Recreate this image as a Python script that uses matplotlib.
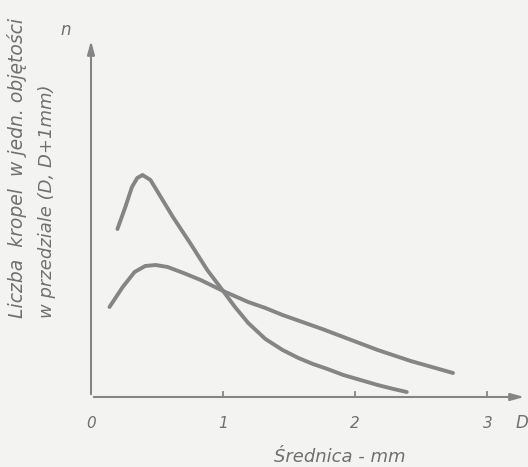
import numpy as np
import matplotlib
matplotlib.use("Agg")
import matplotlib.pyplot as plt

# values (x: diameter in mm, y: arbitrary units)
d_narrow = [0.20, 0.26, 0.31, 0.35, 0.39, 0.45, 0.51, 0.62, 0.75, 0.88, 1.00, 1.09, 1.19, 1.32,
            1.45, 1.57, 1.68, 1.79, 1.91, 2.04, 2.17, 2.29, 2.39]
n_narrow = [1.68, 1.90, 2.10, 2.19, 2.22, 2.17, 2.04, 1.80, 1.54, 1.27, 1.06, 0.90, 0.74, 0.58,
            0.47, 0.39, 0.33, 0.28, 0.22, 0.17, 0.12, 0.08, 0.05]

d_wide = [0.14, 0.24, 0.33, 0.41, 0.49, 0.58, 0.70, 0.83, 1.00, 1.19, 1.32, 1.45, 1.60, 1.75,
          1.91, 2.17, 2.42, 2.74]
n_wide = [0.90, 1.10, 1.25, 1.31, 1.32, 1.30, 1.24, 1.17, 1.06, 0.95, 0.89, 0.82, 0.75, 0.68,
          0.60, 0.47, 0.36, 0.24]

xticks = [1, 2, 3]
xticklabels = ["1", "2", "3"]

ink = "#858585"
txt = "#707070"
paper = "#f3f3f1"

fig = plt.figure(figsize=(5.28, 4.67), dpi=100)
fig.patch.set_facecolor(paper)
ax = fig.add_axes([91 / 528, 70 / 467, 436 / 528, 359 / 467])
ax.set_facecolor(paper)
ax.set_xlim(0, 3.30)
ax.set_ylim(0, 3.59)
for s in ax.spines.values():
    s.set_visible(False)
ax.set_xticks([])
ax.set_yticks([])

# axes drawn as arrows
ax.annotate("", xy=(3.30, 0), xytext=(0, 0),
            arrowprops=dict(arrowstyle="-|>,head_length=0.8,head_width=0.22", color=ink, lw=1.5))
ax.annotate("", xy=(0, 3.59), xytext=(0, 0),
            arrowprops=dict(arrowstyle="-|>,head_length=0.8,head_width=0.22", color=ink, lw=1.5))
for t in xticks:
    ax.plot([t, t], [0, 0.05], color=ink, lw=1.3)

ax.plot(d_narrow, n_narrow, color=ink, lw=2.8, solid_capstyle="round", solid_joinstyle="round")
ax.plot(d_wide, n_wide, color=ink, lw=2.8, solid_capstyle="round", solid_joinstyle="round")

font = dict(color=txt, style="italic", family="DejaVu Sans")
ax.text(0, -0.26, "0", ha="center", va="center", fontsize=11, **font)
for t, lab in zip(xticks, xticklabels):
    ax.text(t, -0.26, lab, ha="center", va="center", fontsize=11, **font)
ax.text(3.26, -0.26, "D", ha="center", va="center", fontsize=12, **font)
ax.text(-0.19, 3.67, "n", ha="center", va="center", fontsize=12, **font)

fig.text(340 / 528, 1 - 457 / 467, "Średnica - mm", ha="center", va="center", fontsize=13, **font)
fig.text(27 / 528, 1 - 318 / 467, "Liczba  kropel  w jedn. objętości", ha="left", va="bottom",
         rotation=90, rotation_mode="anchor", fontsize=13.5, **font)
fig.text(56 / 528, 1 - 318 / 467, "w przedziale (D, D+1mm)", ha="left", va="bottom",
         rotation=90, rotation_mode="anchor", fontsize=13, **font)

fig.savefig("out.png", dpi=100, facecolor=fig.get_facecolor())
